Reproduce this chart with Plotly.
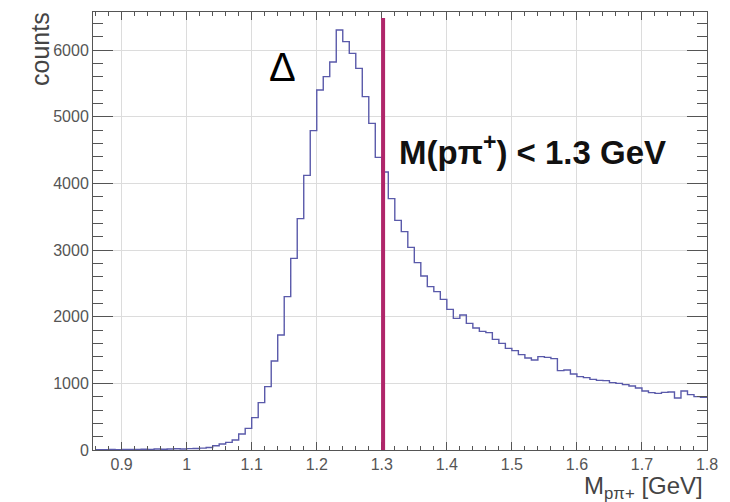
import numpy as np
import plotly.graph_objects as go

# ---- data ----
bin_low = 0.86
bin_width = 0.01
counts = [5, 5, 8, 6, 8, 10, 8, 12, 10, 14,
          12, 15, 18, 16, 20, 22, 28, 38, 64, 90,
          115, 150, 240, 325, 485, 710, 950, 1335, 1725, 2300,
          2875, 3470, 4120, 4790, 5400, 5600, 5820, 6300, 6125, 5950,
          5725, 5300, 4900, 4390, 4170, 3770, 3445, 3275, 3040, 2810,
          2610, 2450, 2375, 2260, 2110, 1975, 2025, 1900, 1830, 1780,
          1760, 1660, 1600, 1525, 1490, 1430, 1380, 1350, 1400, 1390,
          1370, 1190, 1200, 1140, 1100, 1085, 1060, 1045, 1040, 1010,
          1000, 980, 960, 930, 885, 860, 850, 865, 870, 780,
          885, 830, 800, 790]
cut_value = 1.302
x_tick_vals = [0.9, 1.0, 1.1, 1.2, 1.3, 1.4, 1.5, 1.6, 1.7, 1.8]
x_tick_text = ["0.9", "1", "1.1", "1.2", "1.3", "1.4", "1.5", "1.6", "1.7", "1.8"]
y_tick_vals = [0, 1000, 2000, 3000, 4000, 5000, 6000]
y_tick_text = ["0", "1000", "2000", "3000", "4000", "5000", "6000"]
x_range = [0.856, 1.8]
y_range = [0, 6570]

edges = bin_low + bin_width * np.arange(len(counts) + 1)
xs = list(edges)
ys = counts + [counts[-1]]

fig = go.Figure()
fig.add_trace(go.Scatter(x=xs, y=ys, mode="lines", line_shape="hv",
                         line=dict(color="#5a5aaa", width=1.4),
                         hoverinfo="skip", showlegend=False))

fig.add_shape(type="line", xref="x", yref="y", x0=cut_value, x1=cut_value,
              y0=0, y1=6480, line=dict(color="#b0266a", width=4))

fig.add_annotation(text="Δ", x=1.148, y=5740, xref="x", yref="y",
                   showarrow=False, font=dict(family="Liberation Sans", size=40, color="black"))
fig.add_annotation(text="<b>M(pπ<sup>+</sup>) &lt; 1.3 GeV</b>", x=1.5315, y=4500,
                   xref="x", yref="y", showarrow=False,
                   font=dict(family="Liberation Sans", size=33, color="#111"))
fig.add_annotation(text="counts", textangle=-90, xref="paper", yref="paper",
                   x=-0.086, y=1.005, xanchor="center", yanchor="top", showarrow=False,
                   font=dict(family="Liberation Sans", size=25, color="#444"))
fig.add_annotation(text="M<sub>pπ+</sub> [GeV]", xref="paper", yref="paper",
                   x=0.997, y=-0.086, xanchor="right", yanchor="middle", showarrow=False,
                   font=dict(family="Liberation Sans", size=24, color="#444"))

axis_common = dict(showline=True, linecolor="#555", linewidth=1, mirror="allticks",
                   showgrid=True, gridcolor="#dcdcdc", gridwidth=1, zeroline=False,
                   ticks="inside", tickcolor="#555",
                   tickfont=dict(family="Liberation Sans", size=16, color="#555"))

fig.update_xaxes(range=x_range, tickvals=x_tick_vals, ticktext=x_tick_text,
                 ticklen=8, minor=dict(dtick=0.02, tick0=0.9, ticks="inside", ticklen=4,
                                       tickcolor="#555", showgrid=False),
                 **axis_common)
fig.update_yaxes(range=y_range, tickvals=y_tick_vals, ticktext=y_tick_text,
                 ticklen=20, minor=dict(dtick=200, tick0=0, ticks="inside", ticklen=10,
                                        tickcolor="#555", showgrid=False),
                 **axis_common)

fig.update_layout(width=730, height=502, margin=dict(l=93, r=23, t=12, b=52),
                  paper_bgcolor="white", plot_bgcolor="white")

fig.write_html("out.html")
